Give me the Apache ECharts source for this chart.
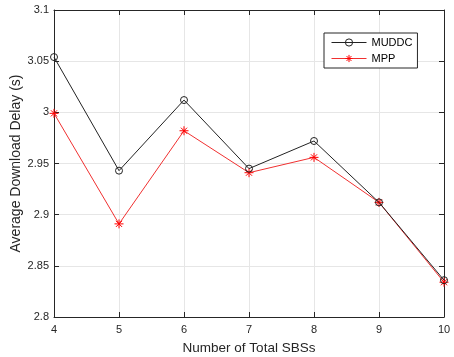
<!DOCTYPE html>
<html>
<head>
<meta charset="utf-8">
<script src="https://cdn.jsdelivr.net/npm/echarts@6/dist/echarts.min.js"></script>
<style>
  html, body { margin: 0; padding: 0; background: #fff; }
  #chart { width: 454px; height: 357px; }
</style>
</head>
<body>
<div id="chart"></div>
<script>
// values
const sbsCounts = [4, 5, 6, 7, 8, 9, 10];
const muddcDelay = [3.054, 2.943, 3.012, 2.945, 2.972, 2.912, 2.836];
const mppDelay = [2.999, 2.891, 2.982, 2.941, 2.956, 2.912, 2.834];
const yTicks = [2.8, 2.85, 2.9, 2.95, 3, 3.05, 3.1];

const FONT = "'Liberation Sans', Arial, sans-serif";
const TEXT = "#262626";
// MATLAB-style markers: hollow ring and stroked asterisk
const ring = "path://M10,5A5,5,0,1,1,0,5A5,5,0,1,1,10,5Z";
const asterisk = "path://M5,0L5,10M0,5L10,5M1.6,1.6L8.4,8.4M8.4,1.6L1.6,8.4";

const pairs = (ys) => sbsCounts.map((x, i) => [x, ys[i]]);

const xBase = {
  type: "value", min: 4, max: 10, interval: 1,
  axisLine: { show: true, onZero: false, lineStyle: { color: TEXT, width: 1 } },
  axisTick: { show: true, inside: true, length: 5, lineStyle: { color: TEXT } },
};
const yBase = {
  type: "value", min: 2.8, max: 3.1, interval: 0.05,
  axisLine: { show: true, onZero: false, lineStyle: { color: TEXT, width: 1 } },
  axisTick: { show: true, inside: true, length: 5, lineStyle: { color: TEXT } },
};

const chart = echarts.init(document.getElementById("chart"));
chart.setOption({
  animation: false,
  textStyle: { fontFamily: FONT },
  grid: { left: 54, right: 10, top: 10, bottom: 40, containLabel: false, outerBoundsMode: "none" },
  legend: {
    left: 324, top: 33,
    orient: "vertical",
    itemWidth: 35, itemHeight: 9, itemGap: 5,
    padding: [4, 5, 4, 7],
    borderColor: "#262626", borderWidth: 1, borderRadius: 0,
    backgroundColor: "#fff",
    itemStyle: { borderWidth: 1 },
    lineStyle: { width: 1 },
    textStyle: { color: "#000", fontSize: 11, fontFamily: FONT },
    data: ["MUDDC", "MPP"],
  },
  xAxis: [
    Object.assign({}, xBase, {
      position: "bottom",
      name: "Number of Total SBSs", nameLocation: "middle", nameGap: 24,
      nameTextStyle: { color: TEXT, fontSize: 13.5, fontFamily: FONT },
      axisLabel: { color: TEXT, fontSize: 11, margin: 7 },
      splitLine: { show: true, lineStyle: { color: "#e6e6e6", width: 1 } },
    }),
    Object.assign({}, xBase, {
      position: "top",
      axisLabel: { show: false },
      splitLine: { show: false },
    }),
  ],
  yAxis: [
    Object.assign({}, yBase, {
      position: "left",
      name: "Average Download Delay (s)", nameLocation: "middle", nameGap: 31,
      nameMoveOverlap: false,
      nameTextStyle: { color: TEXT, fontSize: 14, fontFamily: FONT },
      axisLabel: {
        color: TEXT, fontSize: 11, margin: 5,
        formatter: (v) => {
          const t = yTicks.find((k) => Math.abs(k - v) < 1e-9);
          return t === undefined ? "" : String(t);
        },
      },
      splitLine: { show: true, lineStyle: { color: "#e6e6e6", width: 1 } },
    }),
    Object.assign({}, yBase, {
      position: "right",
      axisLabel: { show: false },
      splitLine: { show: false },
    }),
  ],
  series: [
    {
      name: "MUDDC", type: "line",
      data: pairs(muddcDelay),
      lineStyle: { color: "#222", width: 1 },
      symbol: ring, symbolSize: 7, symbolKeepAspect: true,
      itemStyle: { color: "rgba(0,0,0,0)", borderColor: "#222", borderWidth: 1 },
      z: 4,
    },
    {
      name: "MPP", type: "line",
      data: pairs(mppDelay),
      lineStyle: { color: "#f03030", width: 1 },
      symbol: asterisk, symbolSize: 9, symbolKeepAspect: true,
      itemStyle: { color: "rgba(0,0,0,0)", borderColor: "#ff0000", borderWidth: 1 },
      z: 3,
    },
  ],
});
</script>
</body>
</html>
